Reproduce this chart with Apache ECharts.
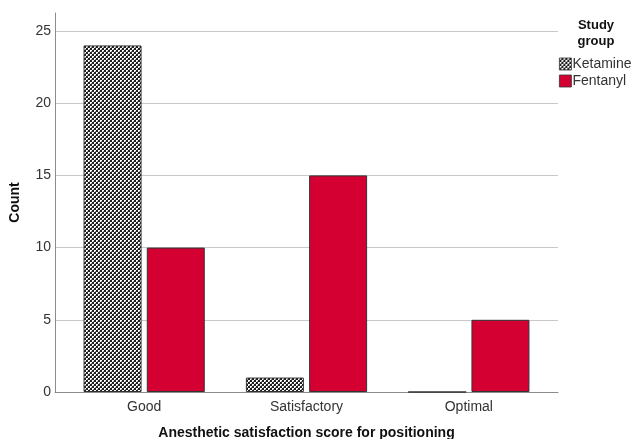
<!DOCTYPE html>
<html>
<head>
<meta charset="utf-8">
<script src="https://cdn.jsdelivr.net/npm/echarts@6/dist/echarts.min.js"></script>
<style>
  html, body { margin: 0; padding: 0; background: #fff; }
  #chart { width: 636px; height: 439px; }
</style>
</head>
<body>
<div id="chart"></div>
<script>
// Counts per satisfaction level and study group
const categories = ['Good', 'Satisfactory', 'Optimal'];
const ketamine = [24, 1, 0];
const fentanyl = [10, 15, 5];
const groupNames = ['Ketamine', 'Fentanyl'];
const yMax = 25;
const yStep = 5;

// Small tiled cross-hatch used as the Ketamine fill
function makeHatch() {
  const c = document.createElement('canvas');
  c.width = 4; c.height = 4;
  const g = c.getContext('2d');
  g.fillStyle = '#1e1e1e';
  g.fillRect(0, 0, 4, 4);
  g.fillStyle = '#ffffff';
  g.fillRect(0, 0, 2, 2);
  g.fillRect(2, 2, 2, 2);
  g.fillStyle = '#8a8a8a';
  g.fillRect(1, 1, 1, 1);
  g.fillRect(3, 3, 1, 1);
  return c;
}

const font = 'Liberation Sans, Arial, sans-serif';
const chart = echarts.init(document.getElementById('chart'), null, { renderer: 'canvas' });

const gridBase = { outerBoundsMode: 'none', containLabel: false, bottom: 47 };

chart.setOption({
  animation: false,
  backgroundColor: '#ffffff',
  textStyle: { fontFamily: font },
  title: {
    text: 'Study\ngroup',
    left: 591,
    top: 12,
    textAlign: 'center',
    textStyle: { fontFamily: font, fontSize: 13, fontWeight: 'bold', color: '#111', lineHeight: 16 }
  },
  legend: {
    orient: 'vertical',
    left: 559,
    top: 57,
    icon: 'rect',
    itemWidth: 12,
    itemHeight: 12,
    itemGap: 3,
    padding: 0,
    data: groupNames,
    textStyle: { fontFamily: font, fontSize: 14, color: '#333', padding: [0, 0, 0, -4] },
    itemStyle: { borderColor: '#333', borderWidth: 0.8 }
  },
  grid: [
    // 0: full-height vertical axis line
    Object.assign({ left: 55, top: 13, width: 503 }, gridBase),
    // 1: bars and category labels
    Object.assign({ left: 63, top: 31, width: 487 }, gridBase),
    // 2: horizontal gridlines, tick labels and baseline
    Object.assign({ left: 55, top: 31, width: 503 }, gridBase)
  ],
  xAxis: [
    { gridIndex: 0, type: 'value', min: 0, max: 1, show: false },
    {
      gridIndex: 1, type: 'category', data: categories,
      axisLine: { show: false }, axisTick: { show: false },
      axisLabel: { fontFamily: font, fontSize: 14, color: '#333', margin: 8 },
      name: 'Anesthetic satisfaction score for positioning',
      nameLocation: 'middle', nameGap: 34,
      nameTextStyle: { fontFamily: font, fontSize: 14, fontWeight: 'bold', color: '#111' }
    },
    {
      gridIndex: 2, type: 'value', min: 0, max: 1,
      axisLine: { show: true, onZero: false, lineStyle: { color: '#8c8c8c', width: 1 } },
      axisTick: { show: false }, axisLabel: { show: false }, splitLine: { show: false }
    }
  ],
  yAxis: [
    {
      gridIndex: 0, type: 'value', min: 0, max: yMax * 1.0496,
      axisLine: { show: true, lineStyle: { color: '#8c8c8c', width: 1 } },
      axisTick: { show: false }, axisLabel: { show: false }, splitLine: { show: false },
      name: 'Count', nameLocation: 'middle', nameRotate: 90, nameGap: 33,
      nameTextStyle: { fontFamily: font, fontSize: 14, fontWeight: 'bold', color: '#111' }
    },
    {
      gridIndex: 1, type: 'value', min: 0, max: yMax, interval: yStep, show: false
    },
    {
      gridIndex: 2, type: 'value', min: 0, max: yMax, interval: yStep,
      axisLine: { show: false }, axisTick: { show: false },
      axisLabel: { fontFamily: font, fontSize: 14, color: '#333', margin: 4 },
      splitLine: { show: true, lineStyle: { color: '#c8c8c8', width: 1 } }
    }
  ],
  series: [
    {
      name: groupNames[0], type: 'bar', xAxisIndex: 1, yAxisIndex: 1,
      data: ketamine, barWidth: 58, barGap: '9%',
      itemStyle: {
        color: { image: makeHatch(), repeat: 'repeat' },
        borderColor: '#333', borderWidth: 1
      }
    },
    {
      name: groupNames[1], type: 'bar', xAxisIndex: 1, yAxisIndex: 1,
      data: fentanyl, barWidth: 58, barGap: '9%',
      itemStyle: { color: '#d50032', borderColor: '#333', borderWidth: 1 }
    }
  ]
});
</script>
</body>
</html>
